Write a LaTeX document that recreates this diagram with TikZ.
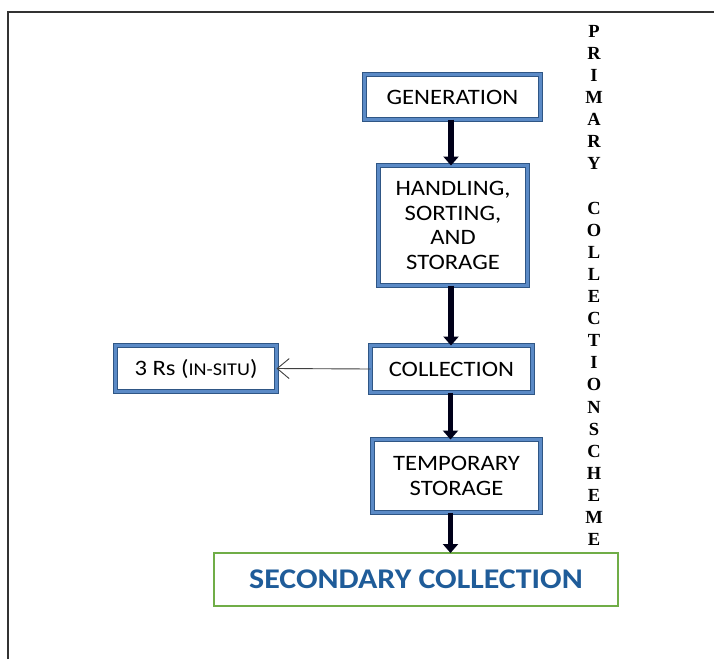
\documentclass[tikz,border=0pt]{standalone}
\usepackage{fontspec}
\setmainfont{Carlito}[FakeStretch=1.12]
\newfontfamily\vfont{Liberation Serif}
\usetikzlibrary{arrows.meta}
\definecolor{bdark}{HTML}{2F5685}
\definecolor{bmid}{HTML}{5B8AC6}
\definecolor{gbox}{HTML}{70AD47}
\definecolor{stxt}{HTML}{1F5C99}
\definecolor{frame}{HTML}{333333}
\tikzset{
  bluebox/.style={draw=bdark, line width=1.2pt, double=bmid, double distance=2.4pt,
    fill=white, inner sep=0pt, outer sep=0pt, align=center,
    font=\fontsize{22}{24.5}\selectfont},
  greenbox/.style={draw=gbox, line width=2pt, inner sep=0pt, outer sep=0pt,
    font=\bfseries\fontsize{28.5}{32}\selectfont, text=stxt},
  fatarrow/.style={draw=black!90!blue, line width=5.5pt,
    -{Triangle[length=9pt,width=15pt]}},
  thinarrow/.style={draw=black!75, line width=0.9pt,
    -{Straight Barb[length=12pt,width=20pt,line width=0.9pt]}},
  vtext/.style={inner sep=0pt, align=center,
    font=\vfont\bfseries\fontsize{18.5}{22.1}\selectfont}
}
\begin{document}
\begin{tikzpicture}[x=1pt,y=-1pt]
\useasboundingbox (0,0) rectangle (714,659);
\fill[white] (0,0) rectangle (714,659);
\coordinate (fa) at (8,659);
\coordinate (fb) at (8,12);
\coordinate (fc) at (714,12);
\draw[frame, line width=1.8pt] (fa) -- (fb) -- (fc);

\node[bluebox, minimum width=176pt, minimum height=45pt] (gen) at (452.5,97) {GENERATION};
\node[bluebox, minimum width=149pt, minimum height=120pt] (hand) at (453,225.5) {HANDLING,\\SORTING,\\AND\\STORAGE};
\node[bluebox, minimum width=162pt, minimum height=47pt] (coll) at (451.5,369) {COLLECTION};
\node[bluebox, minimum width=161pt, minimum height=46pt] (rs) at (196,368.5) {3 Rs ({\fontsize{18}{20}\selectfont IN-SITU})};
\node[bluebox, minimum width=168pt, minimum height=73pt] (temp) at (456.5,476) {TEMPORARY\\STORAGE};
\node[greenbox, minimum width=404pt, minimum height=53pt] (sec) at (416,579.5) {SECONDARY COLLECTION};

\node[vtext, anchor=north] (vt) at (594,25) {P\\R\\I\\M\\A\\R\\Y\\[22.1pt]C\\O\\L\\L\\E\\C\\T\\I\\O\\N\\S\\C\\H\\E\\M\\E};

\draw[fatarrow] ([xshift=-1.5pt]gen.south) -- ([xshift=-1.5pt]gen.south |- hand.north);
\draw[fatarrow] ([xshift=-2pt]hand.south) -- ([xshift=-2pt]hand.south |- coll.north);
\draw[fatarrow] ([xshift=-1pt]coll.south) -- ([xshift=-1pt]coll.south |- temp.north);
\draw[fatarrow] ([xshift=-6pt]temp.south) -- ([xshift=-6pt]temp.south |- sec.north);
\draw[thinarrow] (coll.west) -- (rs.east);
\end{tikzpicture}
\end{document}
